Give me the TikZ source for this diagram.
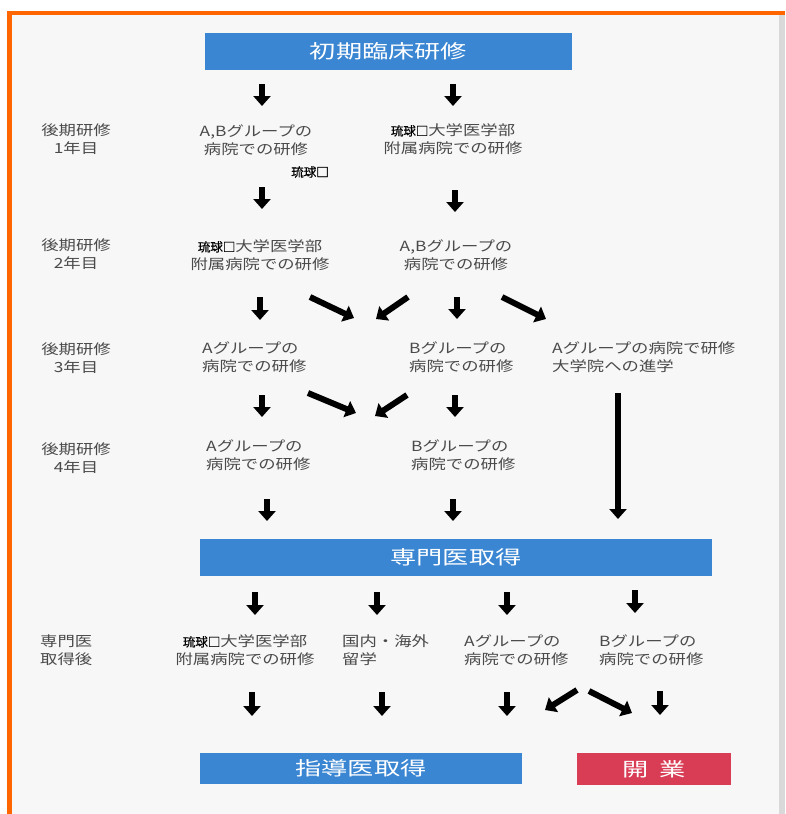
\documentclass[tikz,border=0pt]{standalone}
\usepackage{fontspec}
\usepackage{tikz}
\usetikzlibrary{arrows.meta}
\newfontfamily\jpbody[FakeStretch=1.24]{Noto Sans CJK JP}
\newfontfamily\jptitle[FakeStretch=1.38]{Noto Sans CJK JP}
\newfontfamily\jpplain[FakeBold=0.8]{Noto Sans CJK JP}
\definecolor{barblue}{HTML}{3A86D2}
\definecolor{barred}{HTML}{D93C55}
\definecolor{frameorange}{HTML}{FF6600}
\definecolor{txtgray}{HTML}{4A4A4A}
\definecolor{paper}{HTML}{F7F7F7}
\tikzset{fat/.style={line width=6pt, -{Triangle[width=17pt,length=10pt]}}}
\tikzset{lbl/.style={align=center, text=txtgray, inner sep=0pt, font=\jpbody\fontsize{14}{17.5}\selectfont}}
\tikzset{lbll/.style={lbl, align=left, anchor=west}}
\tikzset{bar/.style={fill=barblue, text=white, inner sep=0pt, font=\jptitle\fontsize{19}{22}\selectfont}}
\newcommand{\fatarr}[3]{\coordinate (#1s) at (#2); \coordinate (#1e) at (#3); \draw[fat] (#1s) -- (#1e);}
\newcommand{\ryukyu}{{\jpplain\fontsize{12.5}{14}\selectfont\color{black}琉球□}}

\begin{document}
\begin{tikzpicture}[x=1pt,y=-1pt]
\useasboundingbox (0,0) rectangle (785,814);
\fill[white] (0,0) rectangle (785,814);
\fill[paper] (12,15) rectangle (779,814);
\fill[gray!30] (779,15) rectangle (785,814);
\fill[frameorange] (7,11) rectangle (785,15);
\fill[frameorange] (7,11) rectangle (12,814);

% bars
\node[bar, minimum width=367pt, minimum height=37pt] (shoki) at (388.5,51.5) {初期臨床研修};
\node[bar, minimum width=512pt, minimum height=37pt] (senmon) at (456,557) {専門医取得};
\node[bar, minimum width=322pt, minimum height=31pt] (shido) at (361,768) {指導医取得};
\node[bar, fill=barred, minimum width=154pt, minimum height=32pt] (kaigyo) at (654,769) {開\hspace{0.55em}業};

% year labels
\node[lbl] (y1) at (76,139) {後期研修\\1年目};
\node[lbl] (y2) at (76,254) {後期研修\\2年目};
\node[lbl] (y3) at (76,358) {後期研修\\3年目};
\node[lbl] (y4) at (76,458) {後期研修\\4年目};
\node[lbll] (y5) at (40,650) {専門医\\取得後};

% year 1
\node[lbl] (r1a) at (256,140) {A,Bグループの\\病院での研修};
\node[lbl] (r1b) at (453,139) {\ryukyu 大学医学部\\附属病院での研修};
\node[text=black, inner sep=0pt, font=\jpplain\fontsize{12.5}{14}\selectfont] (stray) at (310,172) {琉球□};
% year 2
\node[lbl] (r2a) at (260,255) {\ryukyu 大学医学部\\附属病院での研修};
\node[lbl] (r2b) at (456,255) {A,Bグループの\\病院での研修};
% year 3
\node[lbll] (r3a) at (202,357) {Aグループの\\病院での研修};
\node[lbll] (r3b) at (409,357) {Bグループの\\病院での研修};
\node[lbll] (r3c) at (552,357) {Aグループの病院で研修\\大学院への進学};
% year 4
\node[lbll] (r4a) at (206,455) {Aグループの\\病院での研修};
\node[lbll] (r4b) at (411,455) {Bグループの\\病院での研修};
% after
\node[lbl] (r5a) at (245,650) {\ryukyu 大学医学部\\附属病院での研修};
\node[lbll] (r5b) at (342,650) {国内・海外\\留学};
\node[lbll] (r5c) at (464,650) {Aグループの\\病院での研修};
\node[lbll] (r5d) at (599,650) {Bグループの\\病院での研修};

% arrows
\fatarr{a1}{262,84}{262,106}
\fatarr{a2}{453,84}{453,106}
\fatarr{a3}{262,187}{262,209}
\fatarr{a4}{455,190}{455,212}
\fatarr{a5}{260,297}{260,320}
\fatarr{a6}{310,297}{354,318}
\fatarr{a7}{408,297}{376,319}
\fatarr{a8}{457,297}{457,319}
\fatarr{a9}{502,297}{546,319}
\fatarr{a10}{262,395}{262,417}
\fatarr{a11}{308,393}{356,413}
\fatarr{a12}{407,395}{375,416}
\fatarr{a13}{455,395}{455,417}
\coordinate (longs) at (618,393);
\coordinate (longe) at (618,519);
\draw[line width=6.5pt, -{Triangle[width=17pt,length=10pt]}] (longs) -- (longe);
\fatarr{a14}{267,499}{267,521}
\fatarr{a15}{453,499}{453,521}
\fatarr{a16}{255,592}{255,615}
\fatarr{a17}{377,592}{377,615}
\fatarr{a18}{507,592}{507,615}
\fatarr{a19}{635,590}{635,613}
\fatarr{a20}{252,692}{252,716}
\fatarr{a21}{382,692}{382,716}
\fatarr{a22}{507,692}{507,716}
\fatarr{a23}{577,690}{545,710}
\fatarr{a24}{589,691}{632,713}
\fatarr{a25}{660,691}{660,715}
\end{tikzpicture}
\end{document}
